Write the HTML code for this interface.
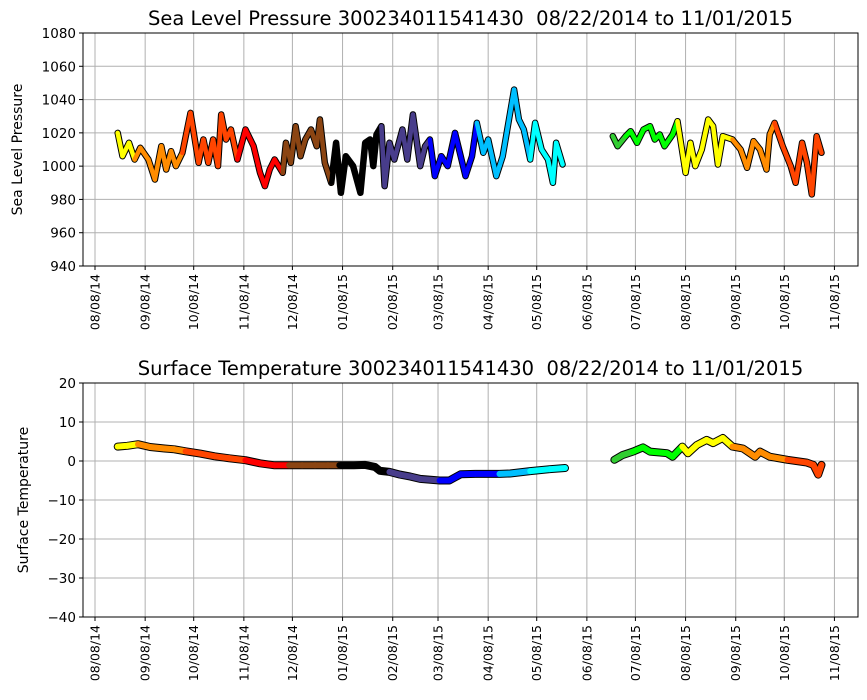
<!DOCTYPE html>
<html><head><meta charset="utf-8"><style>body{margin:0;background:#fff}svg{display:block;font-family:"DejaVu Sans","Liberation Sans",sans-serif}text{white-space:pre}</style></head>
<body>
<svg id="c" width="867" height="700" xmlns="http://www.w3.org/2000/svg"></svg>
<script>
// days since 2014-08-08
const xTickLabels=["08/08/14","09/08/14","10/08/14","11/08/14","12/08/14","01/08/15","02/08/15","03/08/15","04/08/15","05/08/15","06/08/15","07/08/15","08/08/15","09/08/15","10/08/15","11/08/15"];
const xTickDays=[0,31,61,92,122,153,184,212,243,273,304,334,365,396,426,457];
const monthStartDays=[-7,24,54,85,115,146,177,205,236,266,297,327,358,389,419,450];
const monthColors=["#ffff00","#ff8c00","#ff4500","#ff0000","#8b4513","#000000","#483d8b","#0000ff","#00bfff","#00ffff","#32cd32","#00ff00","#ffff00","#ff8c00","#ff4500"];
const pressTicks=[940,960,980,1000,1020,1040,1060,1080];
const tempTicks=[-40,-30,-20,-10,0,10,20];
const pressDays=[14,17,21,24.5,28,33,37,41,44,47,50,54,59,64,67,70,73,76,78,81,84,88,93,98,102,105,108,111,116,118,121,124,127,130,133.5,137,139,142,146,149,152,155,159.5,164,167,170,172,174,177,179,182,185,190,193,196.5,201,204,207,210,214,218,222.5,226,229,233,236,240,243,248,252,259,262,265,269,272,276,280,283,285,289,
320,323,328,331,335,339,343,346,349,352,357,360,365,368,371,375,379,382,385,388,394,399,403,407,411,415,417,420,425,430,433,437,440,443,446,449];
const pressVals=[1020,1006,1014,1004,1011,1004,992,1012,998,1009,1000,1008,1032,1002,1016,1002,1016,1000,1031,1016,1022,1004,1022,1012,996,988,998,1004,996,1014,1002,1024,1006,1016,1022,1012,1028,1002,990,1014,984,1006,1000,984,1014,1016,1000,1019,1024,988,1014,1004,1022,1004,1031,1000,1012,1016,994,1006,1000,1020,1006,994,1006,1026,1008,1016,994,1006,1046,1028,1022,1004,1026,1010,1004,990,1014,1001,
1018,1012,1018,1021,1014,1022,1024,1016,1019,1012,1019,1027,996,1014,1000,1010,1028,1024,1001,1018,1016,1010,999,1015,1010,998,1019,1026,1012,1000,990,1014,1002,983,1018,1008];
const tempDays=[14,20,26.6,34,43,49,56,65,74,83,93,102,111,120,128,136,144,151,160,167,173,176,182,188.5,195,201,213,219,222.5,226,235,250,256.5,269,281,290.5,
321,326,332.5,338.7,343,353.5,357,363,366.5,372,378,382,388,394,400.5,408,411,417,428,440,444,447,449];
const tempVals=[3.7,3.9,4.3,3.6,3.2,3.0,2.5,1.9,1.2,0.7,0.2,-0.6,-1.1,-1.1,-1.1,-1.1,-1.1,-1.1,-1.1,-1.0,-1.5,-2.5,-2.8,-3.5,-4.0,-4.6,-5.0,-5.0,-4.2,-3.4,-3.3,-3.3,-3.2,-2.6,-2.1,-1.8,
0.3,1.5,2.4,3.5,2.4,2.0,1.1,3.7,2.0,4.1,5.4,4.6,5.9,3.7,3.2,1.1,2.4,1.1,0.3,-0.4,-1.0,-3.5,-1.0];

const NS="http://www.w3.org/2000/svg";
const svg=document.getElementById('c');
function mk(t,a,p){const e=document.createElementNS(NS,t);for(const k in a)e.setAttribute(k,a[k]);(p||svg).appendChild(e);return e;}
const L=83,R=858;
function xS(d){return 95+d*1.618;}
function colorFor(d){let c=monthColors[0];for(let i=0;i<monthStartDays.length;i++){if(d>=monthStartDays[i])c=monthColors[i];}return c;}

function panel(o){
  const g=mk('g',{});
  
  
  const yS=v=>o.top+(o.max-v)/(o.max-o.min)*(o.bot-o.top);
  xTickDays.forEach(d=>{const l=mk('line',{x1:xS(d),x2:xS(d),y1:o.top,y2:o.bot,stroke:'#b0b0b0','stroke-width':1},g);
    });
  o.ticks.forEach(v=>{const l=mk('line',{x1:L,x2:R,y1:yS(v),y2:yS(v),stroke:'#b0b0b0','stroke-width':1},g);
    });
  const sg=mk('g',{'stroke-linecap':'round','stroke-linejoin':'round',fill:'none'},g);
  
  
  const ds=o.days,vs=o.vals;
  let pts=[];
  const flush=()=>{if(pts.length>1){const pl=mk('polyline',{points:pts.join(' '),stroke:'#000','stroke-width':o.w+2},sg);
    }pts=[];};
  for(let i=0;i<ds.length;i++){if(i>0&&ds[i]-ds[i-1]>20)flush();pts.push(xS(ds[i]).toFixed(1)+','+yS(vs[i]).toFixed(1));}
  flush();
  for(let i=0;i<ds.length-1;i++){if(ds[i+1]-ds[i]>20)continue;
    const s=mk('line',{x1:xS(ds[i]),y1:yS(vs[i]),x2:xS(ds[i+1]),y2:yS(vs[i+1]),stroke:colorFor(ds[i]),'stroke-width':o.w},sg);
    }
  const f=mk('rect',{x:L,y:o.top,width:R-L,height:o.bot-o.top,fill:'none',stroke:'#000','stroke-width':1},g);
  
  o.ticks.forEach(v=>{mk('line',{x1:L-4,x2:L,y1:yS(v),y2:yS(v),stroke:'#000'},g);
    const t=mk('text',{x:L-7,y:yS(v)+5,'text-anchor':'end','font-size':13.5,fill:'#000'},g);t.textContent=v<0?'\u2212'+(-v):v;
    });
  xTickDays.forEach((d,i)=>{const x=xS(d);mk('line',{x1:x,x2:x,y1:o.bot,y2:o.bot+4,stroke:'#000'},g);
    const t=mk('text',{x:0,y:0,'text-anchor':'end','font-size':12.5,fill:'#000',transform:`translate(${x+4.5},${o.bot+8}) rotate(-90)`},g);
    t.textContent=xTickLabels[i];});
  const ti=mk('text',{x:(L+R)/2,y:o.top-8,'text-anchor':'middle','font-size':19.5,fill:'#000'},g);ti.textContent=o.title;
  
  const yl=mk('text',{x:0,y:0,'text-anchor':'middle','font-size':14,fill:'#000',transform:`translate(${o.ylx},${(o.top+o.bot)/2}) rotate(-90)`},g);
  yl.textContent=o.ylabel;
}
panel({name:'pressure-chart',top:33,bot:266,min:940,max:1080,ticks:pressTicks,days:pressDays,vals:pressVals,w:4.5,
  title:'Sea Level Pressure 300234011541430  08/22/2014 to 11/01/2015',ylabel:'Sea Level Pressure',ylx:22});
panel({name:'temperature-chart',top:383,bot:617,min:-40,max:20,ticks:tempTicks,days:tempDays,vals:tempVals,w:6,
  title:'Surface Temperature 300234011541430  08/22/2014 to 11/01/2015',ylabel:'Surface Temperature',ylx:28});
</script>
</body></html>
